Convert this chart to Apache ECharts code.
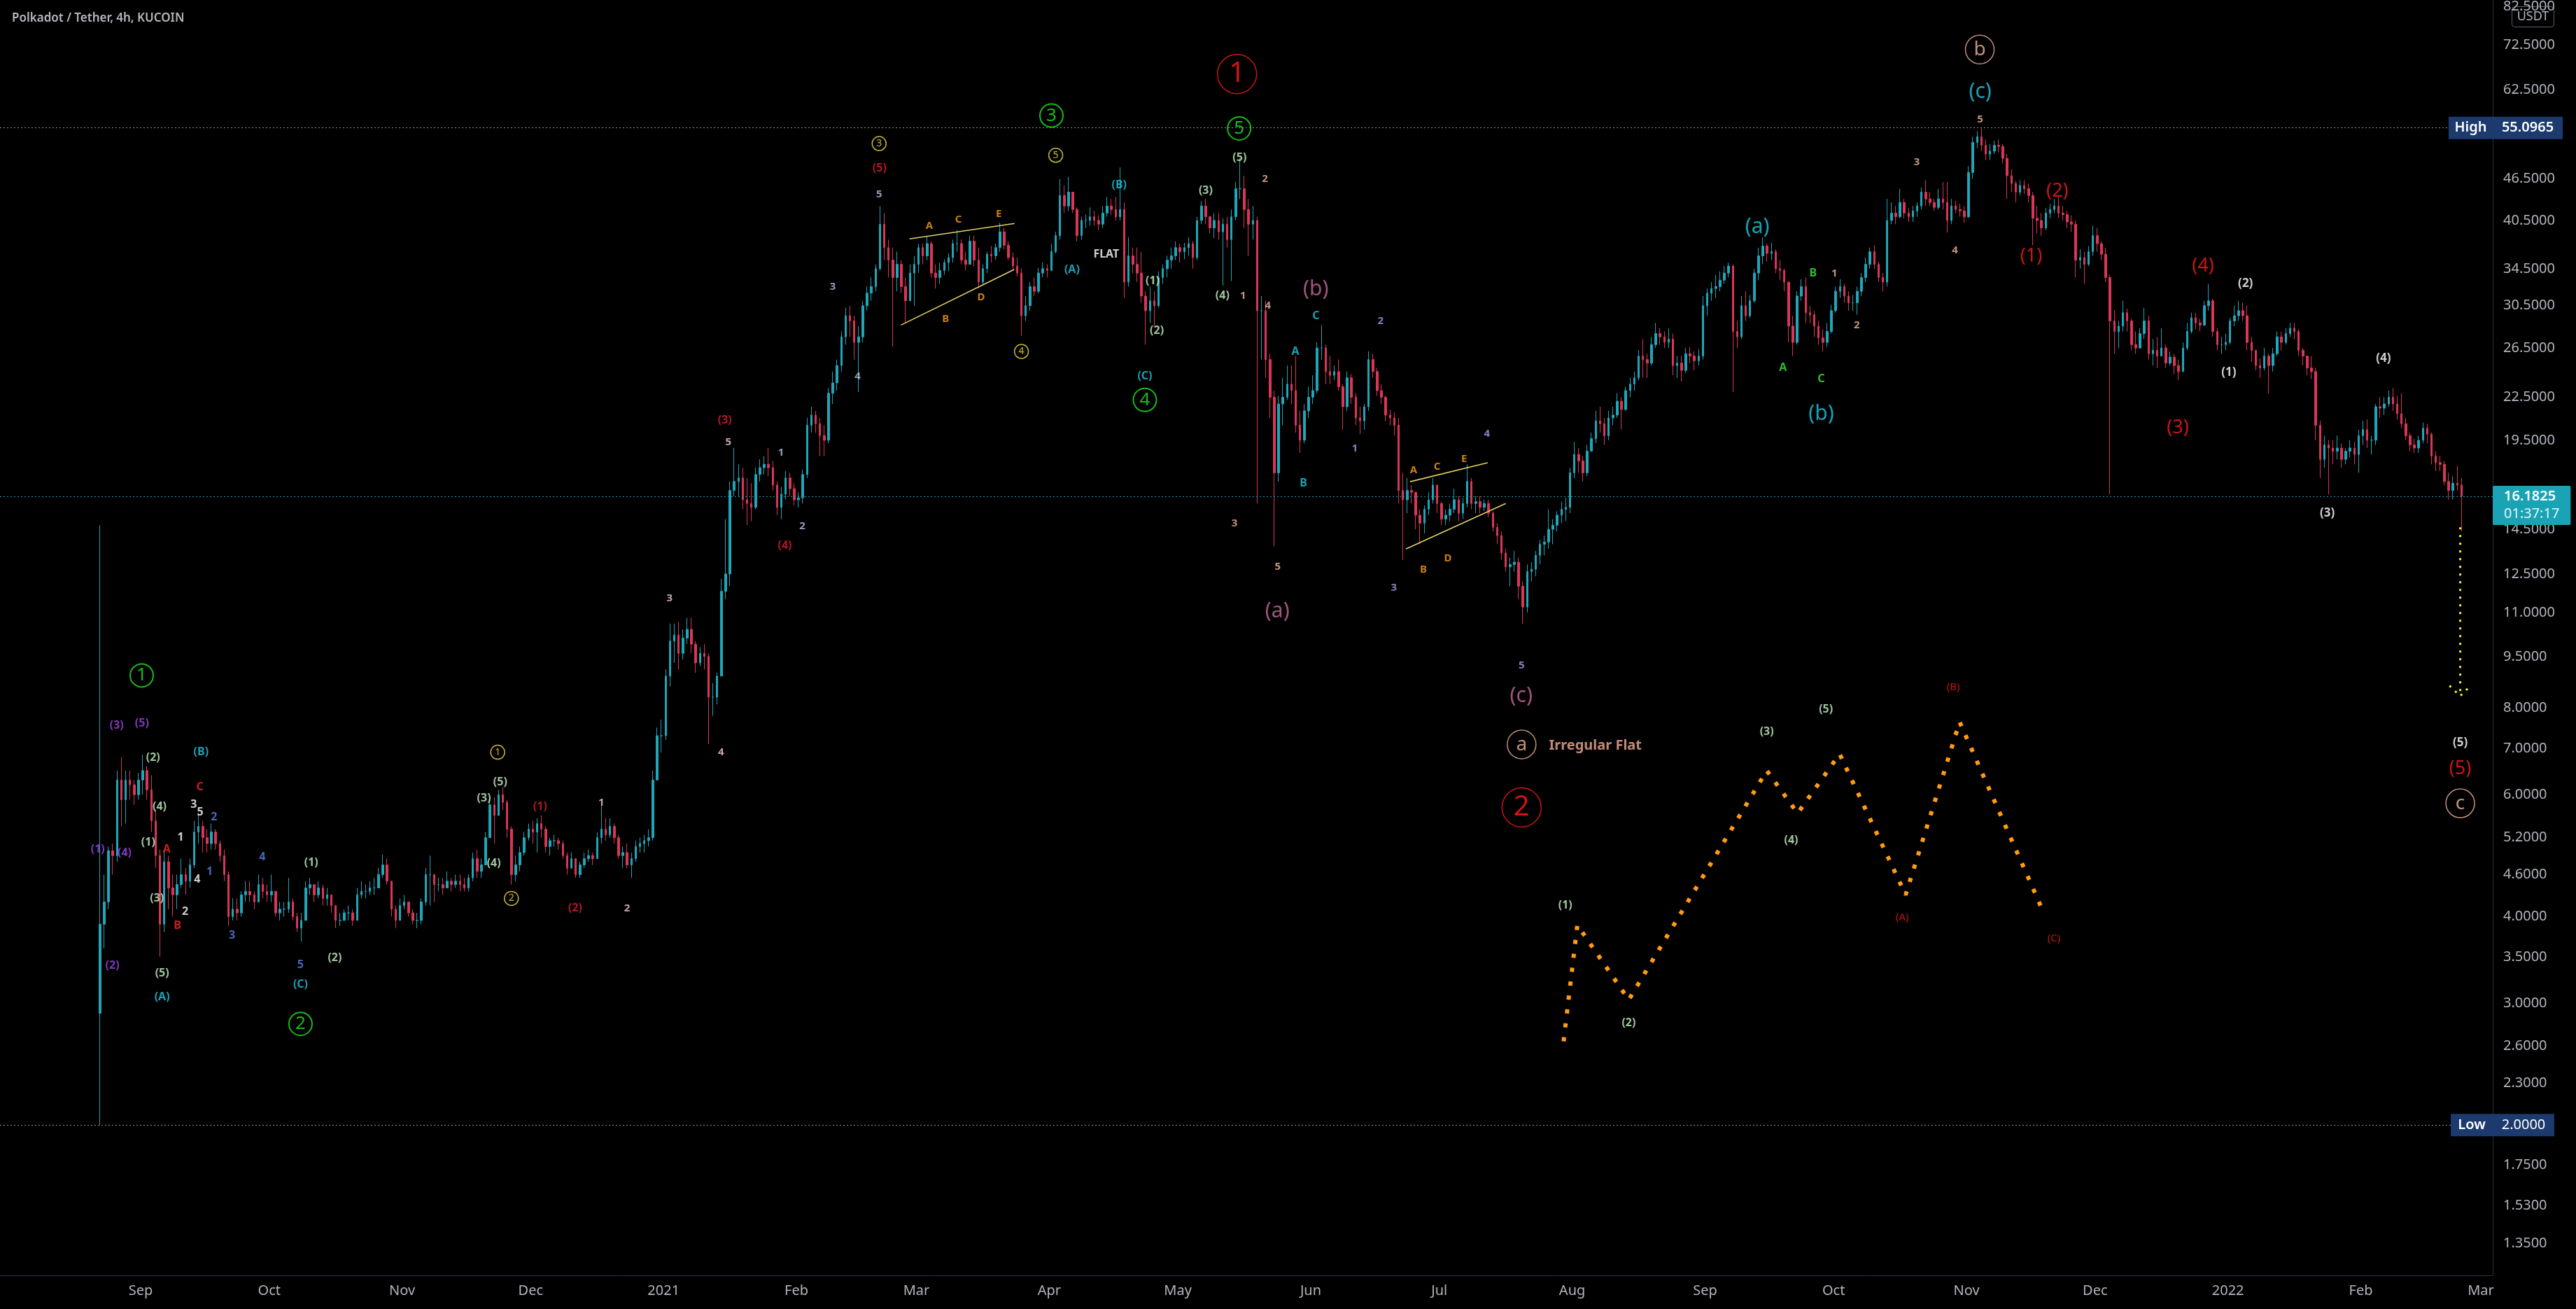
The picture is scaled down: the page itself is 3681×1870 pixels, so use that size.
<!DOCTYPE html>
<html><head><meta charset="utf-8">
<script src="https://cdn.jsdelivr.net/npm/echarts@6/dist/echarts.min.js"></script>
<style>html,body{margin:0;padding:0;background:#000;}#c{width:3681px;height:1870px;}</style>
</head><body><div id="c"></div>
<script>
// ---------------- DATA ----------------
const firstOpen = 2.9;
// daily rows: [close, high, low]
const aug2020 = [[3.9,14.7,2.0],[4.2,4.6,3.6],[4.98,5.05,4.1],[4.9,5.1,4.6],[6.3,6.5,4.8],[5.9,6.8,5.4],[6.3,6.5,5.45],[6.2,6.5,5.9],[6.0,6.3,5.8],[6.3,6.45,5.9]];
const sep2020 = [[6.5,6.85,6.0],[6.1,6.6,5.9],[5.5,6.4,5.3],[4.9,5.7,4.7],[3.9,5.0,3.5],[4.8,5.0,3.8],[4.4,4.9,4.1],[4.3,4.6,4.0],[4.45,4.6,4.1],[4.6,4.85,4.4],
[4.5,4.7,4.3],[4.75,4.85,4.4],[5.3,5.5,4.7],[5.4,5.65,5.1],[5.2,5.5,4.95],[5.1,5.35,4.95],[5.3,5.45,5.0],[5.1,5.35,5.0],[4.9,5.15,4.8],[4.6,5.0,4.5],
[4.0,4.65,3.88],[4.1,4.25,3.95],[4.05,4.25,3.95],[4.3,4.35,4.0],[4.35,4.5,4.2],[4.3,4.5,4.2],[4.2,4.35,4.1],[4.45,4.6,4.2],[4.35,4.55,4.25],[4.3,4.45,4.2]];
const oct2020 = [[4.35,4.6,4.2],[4.05,4.35,4.0],[4.1,4.2,3.95],[4.1,4.2,4.0],[4.2,4.55,4.05],[4.0,4.25,3.95],[3.85,4.05,3.8],[3.95,4.05,3.68],[4.4,4.5,3.95],[4.45,4.55,4.3],
[4.3,4.45,4.2],[4.4,4.5,4.25],[4.25,4.45,4.15],[4.3,4.4,4.15],[4.15,4.3,4.05],[3.95,4.1,3.85],[3.95,4.05,3.88],[4.05,4.1,3.95],[4.05,4.15,3.95],[3.95,4.1,3.88],
[4.3,4.4,3.95],[4.35,4.5,4.25],[4.35,4.45,4.25],[4.4,4.5,4.3],[4.4,4.55,4.3],[4.6,4.7,4.4],[4.75,4.92,4.55],[4.5,4.85,4.45],[4.1,4.5,4.0],[3.95,4.15,3.85],[4.15,4.25,3.95]];
const nov2020 = [[4.2,4.3,4.1],[4.05,4.2,4.0],[3.95,4.1,3.9],[3.95,4.05,3.85],[4.2,4.25,3.9],[4.6,4.7,4.15],[4.6,4.9,4.15],[4.45,4.6,4.2],[4.45,4.55,4.35],[4.4,4.55,4.3],
[4.5,4.65,4.4],[4.45,4.55,4.35],[4.5,4.6,4.4],[4.45,4.6,4.35],[4.4,4.55,4.35],[4.55,4.6,4.35],[4.85,4.95,4.5],[4.65,5.0,4.55],[4.75,4.85,4.55],[5.2,5.3,4.75],
[5.8,5.95,5.2],[5.6,5.95,5.1],[6.0,6.1,5.6],[5.85,6.15,5.7],[5.35,5.9,5.2],[4.6,5.4,4.45],[4.75,4.9,4.5],[4.95,5.05,4.65],[5.2,5.3,4.9],[5.35,5.45,5.15]];
const dec2020 = [[5.3,5.5,5.1],[5.45,5.55,4.95],[5.35,5.6,5.2],[5.05,5.4,4.95],[5.15,5.2,4.9],[5.15,5.25,5.05],[5.1,5.2,5.0],[4.9,5.15,4.85],[4.7,4.95,4.6],[4.85,4.95,4.7],
[4.6,4.85,4.55],[4.75,4.8,4.55],[4.85,4.95,4.7],[4.9,5.0,4.8],[4.85,4.95,4.75],[5.2,5.3,4.85],[5.35,5.8,5.1],[5.25,5.55,5.15],[5.4,5.55,5.2],[5.2,5.45,5.1],
[4.9,5.25,4.85],[4.95,5.05,4.7],[4.75,5.1,4.7],[4.85,4.95,4.55],[5.05,5.15,4.8],[5.1,5.2,4.95],[5.15,5.25,4.95],[5.2,5.35,5.05],[6.3,6.5,5.15],[7.3,7.5,6.3],[7.3,7.7,6.9]];
const jan2021 = [[8.9,9.1,7.2],[10.0,10.6,8.6],[10.2,10.6,9.3],[9.6,10.65,9.1],[10.1,10.4,9.4],[10.4,10.8,9.9],[9.9,10.8,9.6],[9.3,10.0,9.0],[9.6,9.8,9.2],[9.5,9.9,9.1],
[8.3,9.6,7.1],[8.3,8.7,7.8],[8.9,9.0,8.1],[11.8,12.3,8.9],[12.5,15.0,11.5],[16.5,17.0,12.0],[17.0,19.0,16.2],[17.2,18.0,16.2],[16.0,17.8,15.5],[15.8,17.2,14.7],
[15.6,16.9,14.9],[17.4,17.8,15.5],[17.8,18.3,17.0],[18.0,18.5,17.4],[17.8,19.0,17.3],[16.8,18.2,16.5],[15.6,17.0,15.2],[16.3,16.7,15.0],[17.2,17.6,16.0],[16.6,17.5,16.2],[16.0,16.9,15.7]];
const feb2021 = [[16.1,16.4,15.6],[17.4,17.7,15.8],[20.5,21.0,17.2],[21.2,21.8,20.0],[20.6,21.5,20.0],[19.8,21.0,18.5],[19.5,20.5,18.5],[22.8,23.2,19.3],[23.6,24.5,22.0],[25.0,25.5,23.0],
[27.5,28.0,24.5],[29.5,30.3,26.8],[29.0,30.5,27.5],[27.0,29.5,25.5],[27.5,28.5,22.9],[30.5,31.0,27.0],[31.8,32.5,30.0],[32.5,33.5,31.0],[34.5,35.0,32.0],[40.0,42.5,34.3],
[37.0,41.5,35.5],[35.5,38.0,33.5],[33.5,37.0,26.6],[35.0,36.5,32.0],[32.5,35.5,31.8],[31.0,33.5,28.8],[34.0,35.0,31.0],[35.0,36.0,30.5]];
const mar2021 = [[37.0,37.5,34.0],[36.0,37.5,35.0],[37.5,38.4,35.5],[34.0,37.8,33.5],[33.5,35.0,32.3],[34.3,35.2,32.8],[35.2,35.6,33.8],[35.8,36.3,34.2],[37.5,38.0,35.2],[37.5,39.2,36.5],
[35.5,38.0,35.0],[35.0,36.5,34.3],[37.8,38.5,35.0],[35.5,38.5,34.8],[33.0,37.0,32.3],[34.5,35.0,32.6],[36.2,36.5,34.0],[36.0,37.2,35.2],[37.0,37.5,35.5],[39.0,40.2,36.5],
[37.3,39.5,36.8],[35.8,37.8,35.5],[34.8,36.4,34.3],[34.0,35.8,33.6],[29.5,34.5,27.6],[30.5,31.5,29.0],[32.5,33.0,30.0],[32.0,33.5,31.5],[34.0,34.6,31.8],[34.5,35.2,33.5],[34.3,35.0,33.5]];
const apr2021 = [[36.5,37.5,34.2],[38.5,39.0,36.3],[44.0,46.5,38.0],[42.5,45.5,41.5],[44.5,46.8,41.8],[42.0,44.5,41.5],[38.5,42.3,37.8],[40.5,41.0,38.0],[40.5,41.3,39.5],[41.0,42.3,39.8],
[40.5,41.8,39.8],[40.0,41.2,39.2],[41.5,42.5,39.5],[42.5,43.8,41.0],[42.0,43.5,41.2],[41.0,43.8,40.5],[42.0,48.3,40.5],[33.0,43.0,31.3],[36.0,38.3,32.5],[35.0,37.0,34.0],
[34.0,37.0,33.0],[31.5,36.5,30.8],[30.0,32.0,26.8],[31.0,32.5,28.8],[30.5,32.0,28.5],[33.5,34.2,30.3],[34.5,35.0,32.8],[35.5,36.0,33.5],[36.0,37.0,34.5],[37.0,37.8,35.5]];
const may2021 = [[36.5,37.5,35.2],[37.0,37.6,35.6],[37.5,38.3,36.0],[35.8,37.8,34.5],[40.5,41.0,35.5],[42.5,43.2,40.0],[41.0,43.5,40.0],[39.5,41.0,38.8],[40.5,41.5,38.2],[39.0,41.5,38.0],
[40.0,40.8,32.6],[38.0,41.0,37.0],[41.0,42.0,33.1],[45.0,46.0,40.5],[45.0,49.8,43.5],[42.0,47.0,39.5],[40.0,43.5,36.0],[40.5,42.5,38.0],[30.0,41.0,15.8],[30.0,31.5,25.5],
[25.5,31.0,24.0],[22.5,26.0,21.0],[17.5,23.0,13.7],[22.0,22.6,17.0],[22.5,24.0,20.5],[23.5,25.0,22.3],[23.0,25.0,22.0],[20.5,25.8,20.0],[19.5,21.5,18.7],[21.5,22.0,19.3],[22.5,23.3,21.0]];
const jun2021 = [[23.0,24.2,22.0],[26.5,27.0,22.8],[26.5,28.6,25.5],[24.5,26.8,23.5],[24.2,25.8,23.5],[24.5,25.0,23.8],[23.3,25.5,23.0],[21.8,23.5,20.2],[24.0,24.5,21.5],[22.5,24.3,22.0],
[21.0,22.8,20.5],[20.8,21.8,19.9],[21.8,22.0,20.2],[25.5,26.2,21.5],[24.5,26.0,24.0],[23.0,24.8,22.6],[22.5,23.5,22.0],[21.2,22.6,20.8],[21.0,21.6,20.5],[20.5,21.4,19.8],
[16.5,21.0,15.8],[16.0,17.5,13.1],[16.5,17.2,15.3],[16.4,16.8,15.8],[15.2,16.2,14.5],[14.8,15.5,13.8],[15.5,15.7,14.3],[16.0,16.4,15.2],[16.8,17.2,15.8],[15.8,16.8,15.3]];
const jul2021 = [[15.0,15.9,14.7],[15.2,15.5,14.7],[15.5,15.8,14.9],[16.0,16.6,15.3],[15.3,16.2,14.9],[15.8,16.1,15.0],[17.0,18.0,15.6],[15.8,17.2,15.5],[15.9,16.2,15.3],[15.6,16.2,15.3],
[15.8,16.0,15.4],[15.3,16.0,15.1],[14.6,15.4,14.4],[14.2,14.8,13.8],[13.4,14.4,13.1],[12.8,13.6,12.6],[12.9,13.2,12.0],[13.0,13.5,12.6],[12.0,13.2,11.5],[11.2,12.2,10.6],
[12.6,12.9,11.0],[12.7,13.0,12.2],[13.3,13.5,12.4],[13.8,14.0,12.9],[13.9,14.2,13.3],[14.5,15.5,13.6],[14.7,15.0,13.8],[15.2,15.4,14.4],[15.5,15.9,14.8],[15.6,16.1,14.9],[17.5,17.8,15.3]];
const aug2021 = [[18.6,19.4,17.2],[18.2,19.0,17.5],[17.5,18.5,17.0],[18.8,19.2,17.3],[19.6,20.0,18.8],[20.8,21.5,19.3],[20.6,21.8,20.0],[19.8,21.0,19.2],[21.0,21.5,19.5],[21.2,21.8,20.5],
[22.2,22.8,21.0],[21.6,22.5,20.2],[23.0,23.3,21.5],[23.5,24.0,22.5],[24.0,24.5,23.0],[25.8,26.3,23.8],[25.5,27.3,24.0],[25.2,26.0,24.0],[26.8,27.5,25.0],[27.8,28.8,26.5],
[27.5,28.3,26.8],[27.0,28.0,26.5],[27.3,28.3,26.5],[25.0,27.8,24.2],[25.2,25.8,24.0],[24.6,25.8,23.7],[26.0,26.5,24.4],[25.8,26.6,25.2],[25.4,26.2,24.6],[25.8,26.4,25.0],[30.5,31.5,25.5]];
const sep2021 = [[31.8,32.3,29.5],[32.3,33.0,31.0],[32.5,33.8,31.3],[33.2,34.2,32.0],[34.0,34.8,32.8],[34.8,35.2,33.5],[28.0,35.0,22.9],[27.5,29.0,26.5],[30.5,31.5,27.3],[29.5,32.0,29.0],
[31.0,31.6,29.3],[34.0,34.5,30.8],[36.0,37.0,33.2],[37.2,38.3,35.0],[36.3,37.5,35.3],[36.5,37.6,35.5],[34.5,36.8,34.0],[34.3,35.5,33.2],[33.0,34.5,32.0],[28.5,33.0,27.0],
[27.0,29.5,25.8],[31.5,32.0,26.8],[32.5,33.3,31.0],[29.8,33.5,28.8],[29.6,30.5,28.8],[28.5,30.0,27.5],[27.4,29.0,26.8],[27.0,28.2,26.2],[28.0,28.8,26.6],[30.0,30.6,27.8]];
const oct2021 = [[32.0,32.5,29.8],[32.5,33.3,31.3],[31.5,32.8,30.8],[30.8,32.0,30.0],[30.8,31.6,30.0],[32.0,32.5,29.6],[33.5,34.0,31.5],[35.0,35.8,33.0],[36.5,37.0,34.5],[35.0,37.3,34.5],
[33.5,35.3,33.0],[33.0,34.0,32.0],[40.5,43.5,32.5],[41.5,43.0,40.0],[41.0,42.5,40.0],[43.0,45.0,40.8],[41.5,43.5,40.8],[41.0,42.2,40.3],[41.8,42.5,40.3],[42.5,43.0,41.0],
[44.5,45.2,42.0],[43.5,46.3,42.5],[43.0,44.5,42.5],[42.3,43.5,41.8],[43.5,45.0,42.0],[43.0,46.0,42.0],[40.5,46.0,38.9],[42.5,43.5,40.0],[42.0,43.2,41.5],[41.8,42.8,41.0],[41.0,42.5,40.2]];
const nov2021 = [[47.5,48.5,40.8],[52.5,53.5,46.5],[53.5,54.5,51.5],[52.0,55.0965,51.0],[50.5,53.0,49.5],[51.0,52.2,49.5],[52.0,52.8,50.5],[51.8,53.0,50.8],[49.8,52.2,49.0],[47.0,50.5,43.5],
[45.8,48.0,44.5],[44.5,46.2,43.0],[45.5,46.3,44.0],[45.0,46.3,44.2],[44.0,45.8,43.0],[40.8,44.5,37.3],[40.5,42.5,38.8],[39.5,41.5,38.5],[41.5,42.2,39.2],[42.0,42.8,40.8],
[42.5,43.5,41.5],[41.5,43.8,40.8],[41.3,42.5,40.5],[40.3,41.8,39.5],[40.0,41.2,39.0],[35.5,40.5,33.5],[35.8,36.8,34.5],[35.0,36.5,32.8],[36.5,37.2,34.8],[38.5,39.8,36.0]];
const dec2021 = [[37.5,39.5,36.5],[36.2,37.8,35.5],[33.5,37.0,33.0],[29.0,33.8,16.3],[28.0,30.0,26.0],[28.5,29.0,26.5],[29.8,31.0,28.0],[29.0,30.2,28.0],[26.8,29.2,26.3],[26.5,28.0,26.0],
[27.8,28.3,26.5],[29.0,30.3,27.3],[26.0,29.5,25.5],[26.3,27.3,25.0],[25.8,27.5,24.8],[26.5,28.3,25.8],[25.2,26.8,24.8],[25.7,26.2,25.0],[25.0,26.0,24.3],[24.5,25.5,23.8],
[26.5,27.0,24.5],[28.0,28.8,26.3],[29.3,29.8,27.8],[28.8,29.8,28.2],[28.6,29.2,28.0],[30.5,31.0,28.5],[31.0,32.8,30.0],[28.0,31.2,27.5],[26.8,28.3,26.3],[26.8,27.5,26.0],[27.0,27.8,26.3]];
const jan2022 = [[29.0,29.3,26.8],[29.5,30.5,28.5],[30.0,31.0,29.0],[29.5,30.8,29.0],[27.0,30.5,26.3],[26.3,27.5,25.3],[25.0,26.3,24.6],[24.8,25.6,24.0],[25.8,26.5,24.6],[25.0,26.0,22.8],
[26.0,26.5,24.5],[27.5,28.0,25.8],[27.0,28.0,26.3],[27.8,28.3,26.8],[28.3,28.8,27.5],[28.0,28.8,27.3],[26.3,28.2,25.8],[25.8,26.5,25.0],[24.8,25.8,24.2],[24.5,25.8,23.9],
[20.5,24.8,19.5],[18.3,20.8,17.2],[19.2,19.8,17.8],[19.0,19.5,16.3],[18.8,19.5,18.0],[19.0,19.8,18.3],[18.3,19.3,17.8],[18.8,19.0,18.0],[19.0,19.5,18.4],[18.6,19.4,18.0],[19.8,20.2,17.5]];
const feb2022 = [[20.2,20.8,19.2],[19.5,20.9,19.0],[19.5,19.8,18.6],[21.8,22.0,19.2],[21.7,22.5,21.0],[22.0,22.5,21.2],[22.5,23.0,21.8],[22.0,23.2,21.5],[21.3,22.6,20.9],[20.6,22.8,20.3],
[19.8,21.0,19.5],[19.2,20.0,18.8],[19.0,19.6,18.7],[19.5,19.8,18.7],[20.3,20.7,19.3],[19.9,20.6,19.3],[18.5,20.0,18.0],[18.1,18.8,17.6],[18.0,18.5,17.6],[17.0,18.2,16.8],
[16.5,17.5,16.0],[16.9,17.3,16.0],[16.8,17.9,16.5],[16.1825,17.2,14.4]];

// axis ticks
const priceTicks = [82.5,72.5,62.5,46.5,40.5,34.5,30.5,26.5,22.5,19.5,14.5,12.5,11,9.5,8,7,6,5.2,4.6,4,3.5,3,2.6,2.3,1.75,1.53,1.35];
const monthTicks = ['2020-09-01','2020-10-01','2020-11-01','2020-12-01','2021-01-01','2021-02-01','2021-03-01','2021-04-01','2021-05-01','2021-06-01','2021-07-01','2021-08-01','2021-09-01','2021-10-01','2021-11-01','2021-12-01','2022-01-01','2022-02-01','2022-03-01'];
const monthLabels = ['Sep','Oct','Nov','Dec','2021','Feb','Mar','Apr','May','Jun','Jul','Aug','Sep','Oct','Nov','Dec','2022','Feb','Mar'];
const highPrice = 55.0965, lowPrice = 2.0, lastPrice = 16.1825, countdown = '01:37:17';

// annotations: [days since 2020-09-01, price, text]
const purpleLabels = [[-10.0,5.0,'(1)'],[-6.6,3.40,'(2)'],[-5.6,7.56,'(3)'],[-3.75,4.94,'(4)'],[0.3,7.61,'(5)']];
const paleGreenLabels = [[2.9,6.78,'(2)'],[4.4,5.77,'(4)'],[1.77,5.12,'(1)'],[3.8,4.25,'(3)'],[5.0,3.31,'(5)'],[39.8,4.78,'(1)'],[45.3,3.49,'(2)'],[80.1,5.93,'(3)'],[83.9,6.25,'(5)'],[82.4,4.77,'(4)'],
 [256.4,49.9,'(5)'],[248.5,44.7,'(3)'],[236.1,33.1,'(1)'],[237.1,28.1,'(2)'],[252.4,31.5,'(4)'],
 [332.4,4.15,'(1)'],[347.2,2.81,'(2)'],[379.4,7.40,'(3)'],[385.1,5.15,'(4)'],[393.2,7.96,'(5)']];
const cyanLabels = [[14.1,6.91,'(B)'],[5.0,3.06,'(A)'],[37.3,3.19,'(C)'],[228.3,45.6,'(B)'],[217.3,34.4,'(A)'],[234.3,24.1,'(C)'],[274.2,29.5,'C'],[269.4,26.2,'A'],[271.3,16.9,'B']];
const redLetterLabels = [[13.8,6.16,'C'],[6.1,5.0,'A'],[8.6,3.88,'B']];
const whiteNumLabels = [[12.4,5.80,'3'],[13.9,5.66,'5'],[9.3,5.2,'1'],[13.2,4.53,'4'],[10.4,4.07,'2']];
const blueNumLabels = [[17.1,5.57,'2'],[16.1,4.64,'1'],[21.3,3.76,'3'],[28.4,4.87,'4'],[37.3,3.41,'5']];
const greenCircles = [[0.24,8.92,'1'],[37.3,2.80,'2'],[212.5,57.4,'3'],[234.3,22.3,'4'],[256.3,55.0,'5']];
const yellowCircles = [[83.3,6.91,'1'],[86.5,4.25,'2'],[172.3,52.3,'3'],[205.5,26.2,'4'],[213.5,50.3,'5']];
const darkRedLabels = [[93.2,5.77,'(1)'],[101.4,4.11,'(2)'],[136.3,20.86,'(3)'],[150.3,13.74,'(4)'],[172.4,48.2,'(5)']];
const pinkNumLabels = [[107.5,5.84,'1'],[113.5,4.11,'2'],[123.4,11.53,'3'],[135.4,6.90,'4'],[137.1,19.39,'5']];
const steelNumLabels = [[149.4,18.69,'1'],[154.4,14.66,'2'],[161.5,32.5,'3'],[167.3,24.1,'4'],[172.3,44.2,'5']];
const orangeLabels = [[184.0,39.8,'A'],[187.8,29.2,'B'],[190.8,40.6,'C'],[196.1,31.4,'D'],[200.2,41.4,'E'],
 [297.0,17.66,'A'],[299.3,12.68,'B'],[302.5,17.86,'C'],[305.0,13.16,'D'],[308.8,18.34,'E']];
const flatLabel = [[225.3,36.2,'FLAT']];
const salmonNumLabels = [[262.3,46.5,'2'],[257.2,31.5,'1'],[263.0,30.5,'4'],[255.2,14.8,'3'],[265.3,12.8,'5'],
 [429.2,56.6,'5'],[414.4,49.1,'3'],[423.3,36.7,'4'],[395.2,33.98,'1'],[400.4,28.6,'2']];
const mauveBigLabels = [[274.2,32.2,'(b)'],[265.2,11.03,'(a)'],[322.1,8.32,'(c)']];
const lavenderNumLabels = [[283.3,18.97,'1'],[289.3,28.97,'2'],[292.4,11.93,'3'],[314.1,19.9,'4'],[322.2,9.21,'5']];
const cyanBigLabels = [[429.2,62.1,'(c)'],[377.2,39.6,'(a)'],[392.1,21.3,'(b)']];
const greenLetterLabels = [[390.2,33.98,'B'],[383.2,24.8,'A'],[392.1,23.9,'C']];
const redBigLabels = [[441.1,35.9,'(1)'],[447.2,44.6,'(2)'],[475.3,20.3,'(3)'],[481.2,34.8,'(4)'],[541.2,6.54,'(5)']];
const whiteParenLabels = [[487.2,24.4,'(1)'],[491.1,32.8,'(2)'],[510.2,15.3,'(3)'],[523.3,25.6,'(4)'],[541.2,7.13,'(5)']];
const schematicRedLabels = [[411.0,3.99,'(A)'],[422.9,8.58,'(B)'],[446.4,3.72,'(C)']];
const bigRedCircles = [[255.8,65.9,'1'],[322.2,5.75,'2']];
const salmonCircles = [[429.1,71.5,'b'],[322.2,7.09,'a'],[541.2,5.83,'c']];
const irregularFlatText = [[328.6,7.06,'Irregular Flat']];

// schematic irregular flat path and trendlines
const flatPath = [[332.0,2.642],[335.2,3.89],[347.2,3.033],[379.4,6.50],[386.6,5.64],[396.4,6.87],[411.8,4.30],[424.4,7.64],[443.8,4.08]];
const triangleLines = [
  [[179.4,38.1],[203.9,40.1]], [[177.4,28.6],[203.8,34.4]],
  [[296.2,16.99],[314.3,18.1]], [[295.2,13.58],[318.5,15.8]]
];
const arrowShaft = [[541.2,14.6],[541.2,8.33]];
const arrowHead = [[538.7,8.62],[541.2,8.33],[543.6,8.62]];

// ---------------- BUILD ----------------
const DAY = 86400000;
const SEP1 = Date.UTC(2020, 8, 1);
const at = d => SEP1 + d * DAY;
const FONT = "'Noto Sans', 'DejaVu Sans', sans-serif";
const UP = '#1fa6b8', DOWN = '#d93658';

const monthBlocks = [[2020,7,22,aug2020],[2020,8,1,sep2020],[2020,9,1,oct2020],[2020,10,1,nov2020],[2020,11,1,dec2020],
 [2021,0,1,jan2021],[2021,1,1,feb2021],[2021,2,1,mar2021],[2021,3,1,apr2021],[2021,4,1,may2021],[2021,5,1,jun2021],
 [2021,6,1,jul2021],[2021,7,1,aug2021],[2021,8,1,sep2021],[2021,9,1,oct2021],[2021,10,1,nov2021],[2021,11,1,dec2021],
 [2022,0,1,jan2022],[2022,1,1,feb2022]];
const candles = [];
let prevClose = firstOpen;
monthBlocks.forEach(([y, m, d0, rows]) => rows.forEach((r, i) => {
  candles.push([Date.UTC(y, m, d0 + i, 12), prevClose, r[0], r[2], r[1]]);
  prevClose = r[0];
}));

function textSeries(rows, color, size, weight, extra) {
  return {
    type: 'scatter', symbolSize: 1, silent: true, z: 6, clip: false,
    itemStyle: { color: 'rgba(0,0,0,0)' },
    data: rows.map(r => ({ value: [at(r[0]), r[1]], label: { formatter: r[2] } })),
    label: Object.assign({ show: true, position: 'inside', color: color, fontSize: size, fontWeight: weight, fontFamily: FONT }, extra || {})
  };
}
function circleSeries(rows, color, diameter, size, bw) {
  return {
    type: 'scatter', symbol: 'circle', symbolSize: diameter, silent: true, z: 6, clip: false,
    itemStyle: { color: 'rgba(0,0,0,0)', borderColor: color, borderWidth: bw },
    data: rows.map(r => ({ value: [at(r[0]), r[1]], label: { formatter: r[2] } })),
    label: { show: true, position: 'inside', color: color, fontSize: size, fontFamily: FONT }
  };
}
function lineSeries(pts, style) {
  return { type: 'line', silent: true, symbol: 'none', z: 4, clip: false, animation: false,
    data: pts.map(p => [at(p[0]), p[1]]), lineStyle: style };
}

const hiddenLine = { color: 'rgba(0,0,0,0)', width: 1, opacity: 1 };
const tickLabel = { show: true, position: 'end', distance: 15, color: '#b2b5be', fontSize: 20, fontFamily: FONT, opacity: 1 };
const priceMarks = priceTicks.map(v => ({ yAxis: v, lineStyle: hiddenLine, label: Object.assign({ formatter: v.toFixed(4) }, tickLabel) }));
const monthMarks = monthTicks.map((t, i) => ({ xAxis: Date.parse(t + 'T00:00:00Z'), lineStyle: hiddenLine,
  label: { show: true, position: 'start', distance: 12, color: '#b2b5be', fontSize: 20, fontFamily: FONT, opacity: 1, formatter: monthLabels[i] } }));
const dotted = c => ({ color: c, type: [2, 3], width: 1, opacity: 1 });

const boxMarks = [
  { yAxis: highPrice, lineStyle: dotted('#8f929b'), label: { show: true, position: 'end', distance: 0, offset: [-63, 0],
    formatter: '{a|High}{b|' + highPrice.toFixed(4) + '}', backgroundColor: '#1c3a6e', padding: [4, 0, 4, 0],
    rich: { a: { width: 63, align: 'center', color: '#ffffff', fontSize: 20, fontWeight: 600, fontFamily: FONT, lineHeight: 24 },
            b: { width: 100, align: 'center', color: '#ffffff', fontSize: 20, fontWeight: 600, fontFamily: FONT, lineHeight: 24 } } } },
  { yAxis: lowPrice, lineStyle: dotted('#8f929b'), label: { show: true, position: 'end', distance: 0, offset: [-60, 0],
    formatter: '{a|Low}{b|' + lowPrice.toFixed(4) + '}', backgroundColor: '#1c3a6e', padding: [4, 0, 4, 0],
    rich: { a: { width: 60, align: 'center', color: '#ffffff', fontSize: 20, fontWeight: 600, fontFamily: FONT, lineHeight: 24 },
            b: { width: 88, align: 'center', color: '#ffffff', fontSize: 20, fontFamily: FONT, lineHeight: 24 } } } },
  { yAxis: lastPrice, lineStyle: dotted('#1b9fb0'), label: { show: true, position: 'end', distance: 0, offset: [0, 13],
    formatter: '{v|' + lastPrice.toFixed(4) + '}\n{t|' + countdown + '}', backgroundColor: '#1aa3b5', padding: [3, 16, 3, 16], borderRadius: 2,
    rich: { v: { color: '#ffffff', fontSize: 20, fontWeight: 600, fontFamily: FONT, lineHeight: 25 },
            t: { color: '#e6f6f8', fontSize: 20, fontFamily: FONT, lineHeight: 25 } } } }
];

const series = [
  {
    type: 'candlestick', name: 'DOTUSDT', barWidth: 3, z: 3,
    data: candles, encode: { x: 0, y: [1, 2, 3, 4] },
    itemStyle: { color: UP, color0: DOWN, borderColor: UP, borderColor0: DOWN, borderWidth: 1 },
    markLine: { symbol: ['none', 'none'], silent: true, animation: false, precision: 4,
      data: priceMarks.concat(monthMarks, boxMarks) }
  },
  ...triangleLines.map(l => lineSeries(l, { color: '#e3cf6a', width: 1.6 })),
  lineSeries(flatPath, { color: '#ff9c14', width: 6, type: [6, 14], cap: 'butt' }),
  lineSeries(arrowShaft, { color: '#f2f23a', width: 3, type: [3, 8] }),
  lineSeries(arrowHead, { color: '#f2f23a', width: 3, type: [3, 8] }),
  textSeries(purpleLabels, '#9d45e8', 16, 'bold'),
  textSeries(paleGreenLabels, '#c6f2c4', 16, 'bold'),
  textSeries(cyanLabels, '#20c6e0', 16, 'bold'),
  textSeries(redLetterLabels, '#ff2424', 16, 'bold'),
  textSeries(whiteNumLabels, '#ffffff', 16, 'bold'),
  textSeries(blueNumLabels, '#5a80e4', 16, 'bold'),
  textSeries(darkRedLabels, '#e01a32', 16, 'bold'),
  textSeries(pinkNumLabels, '#f6c9d8', 15, 'bold'),
  textSeries(steelNumLabels, '#b4c6e6', 15, 'bold'),
  textSeries(orangeLabels, '#ff9d1c', 15, 'bold'),
  textSeries(flatLabel, '#ffffff', 16, 'bold'),
  textSeries(salmonNumLabels, '#f3b89e', 15, 'bold'),
  textSeries(mauveBigLabels, '#c7699c', 30, 'normal'),
  textSeries(lavenderNumLabels, '#a0a2f4', 15, 'bold'),
  textSeries(cyanBigLabels, '#1ec8e6', 30, 'normal'),
  textSeries(greenLetterLabels, '#3ee63e', 16, 'bold'),
  textSeries(redBigLabels, '#ff1a1a', 27, 'normal'),
  textSeries(whiteParenLabels, '#ffffff', 17, 'bold'),
  textSeries(schematicRedLabels, '#f01818', 15, 'normal'),
  textSeries(irregularFlatText, '#f1ab93', 20, 'bold', { align: 'left' }),
  circleSeries(greenCircles, '#1ee81e', 33, 26, 2),
  circleSeries(yellowCircles, '#f2e23e', 20, 14, 1.5),
  circleSeries(bigRedCircles, '#ff1a1a', 56, 40, 1.5),
  circleSeries(salmonCircles, '#f1b49c', 41, 28, 1.5)
];

const chart = echarts.init(document.getElementById('c'), null, { renderer: 'canvas' });
chart.setOption({
  backgroundColor: '#000000',
  animation: false,
  title: { text: 'Polkadot / Tether, 4h, KUCOIN', left: 12, top: 13,
    textStyle: { color: '#b6b8bf', fontSize: 17, fontWeight: 600, fontFamily: FONT } },
  grid: { left: 0, right: 119, top: 0, bottom: 48, containLabel: false },
  xAxis: {
    type: 'time', min: at(-32.82), max: at(548.78),
    axisLine: { show: true, lineStyle: { color: '#2e313a', width: 1 } },
    axisTick: { show: false }, axisLabel: { show: false }, splitLine: { show: false }
  },
  yAxis: {
    type: 'log', logBase: 10, position: 'right', min: 1.2131, max: 84.3,
    axisLine: { show: true, lineStyle: { color: '#2e313a', width: 1 } },
    axisTick: { show: false }, axisLabel: { show: false }, splitLine: { show: false }
  },
  graphic: [
    { type: 'group', right: 31, top: 9, z: 100, children: [
      { type: 'rect', shape: { x: 0, y: 0, width: 60, height: 29, r: 4 }, style: { fill: '#000000', stroke: '#5d606b', lineWidth: 1 } },
      { type: 'text', x: 30, y: 14.5, style: { text: 'USDT', fill: '#b2b5be', font: '18px ' + FONT, textAlign: 'center', textVerticalAlign: 'middle' } }
    ] }
  ],
  series: series
});
</script>
</body></html>
